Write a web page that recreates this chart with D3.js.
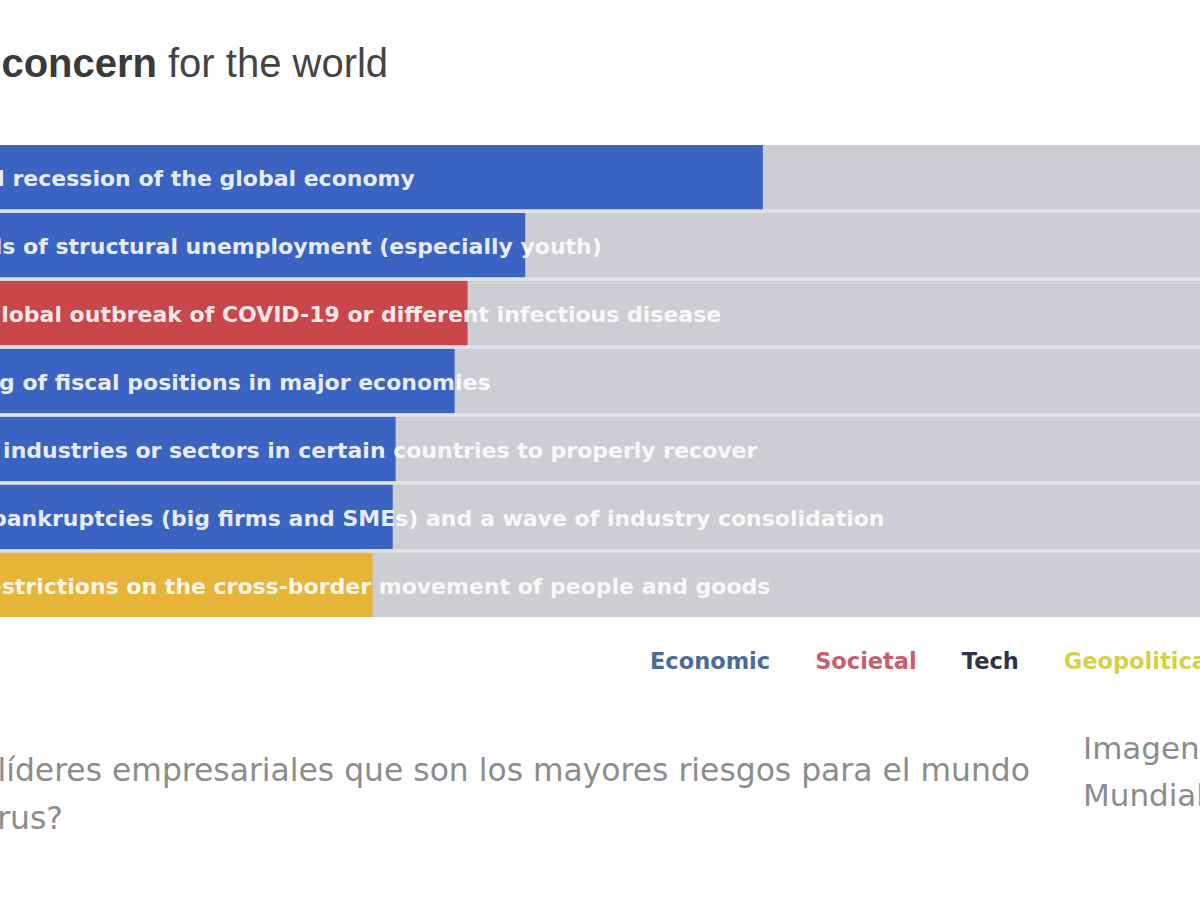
<!DOCTYPE html>
<html>
<head>
<meta charset="utf-8">
<script src="https://cdn.jsdelivr.net/npm/d3@7"></script>
<style>
  html, body { margin: 0; padding: 0; background: #ffffff; }
  svg { display: block; }
</style>
</head>
<body>
<svg id="chart" width="1200" height="900"></svg>
<script>
// ---- data ----
const categories = [
  "Prolonged recession of the global economy",
  "High levels of structural unemployment (especially youth)",
  "Another global outbreak of COVID-19 or different infectious disease",
  "Weakening of fiscal positions in major economies",
  "Failure of industries or sectors in certain countries to properly recover",
  "Surge of bankruptcies (big firms and SMEs) and a wave of industry consolidation",
  "Tighter restrictions on the cross-border movement of people and goods"
];
const values = [62.0, 45.5, 41.5, 40.6, 36.5, 36.3, 34.9];
const riskTypes = ["Economic", "Economic", "Societal", "Economic", "Economic", "Economic", "Geopolitical"];
const legendLabels = ["Economic", "Societal", "Tech", "Geopolitical"];
const barColors = ["#3a63c2", "#c9464b", "#2f3446", "#e7b43a"];
const legendColors = ["#4b6b9b", "#c95f69", "#2e3447", "#d8d048"];
const titleBold = "Risks of most concern";
const titleRest = "for the world";
const captionLines = [
  "¿Qué consideran los líderes empresariales que son los mayores riesgos para el mundo",
  "tras el coronavirus?"
];
const creditLines = ["Imagen: Foro Económico", "Mundial"];

// ---- scales ----
const svg = d3.select("#chart");
const x = d3.scaleLinear().domain([0, 100]).range([-130, 1310]);
const y = d3.scaleBand().domain(categories).range([145, 617]).paddingInner(0.055);
const color = d3.scaleOrdinal().domain(legendLabels).range(barColors);
const legendColor = d3.scaleOrdinal().domain(legendLabels).range(legendColors);

// title
svg.append("text")
  .attr("x", 157).attr("y", 77)
  .attr("text-anchor", "end")
  .style("font-family", "'Liberation Sans', Arial, sans-serif")
  .style("font-size", "40px").style("font-weight", "bold")
  .style("fill", "#3a3a3a")
  .text(titleBold);
svg.append("text")
  .attr("x", 168).attr("y", 77)
  .style("font-family", "'Liberation Sans', Arial, sans-serif")
  .style("font-size", "40px")
  .style("fill", "#444")
  .text(titleRest);

// background between rows
svg.append("rect")
  .attr("x", x(0)).attr("y", y.range()[0])
  .attr("width", x(100) - x(0)).attr("height", y.range()[1] - y.range()[0])
  .attr("fill", "#e1e2e5");

const rows = svg.append("g").selectAll("g").data(categories).join("g");

// tracks
rows.append("rect")
  .attr("x", x(0)).attr("y", d => y(d))
  .attr("width", x(100) - x(0)).attr("height", y.bandwidth())
  .attr("fill", "#cdced3");

// bars
rows.append("rect")
  .attr("x", x(0)).attr("y", d => y(d))
  .attr("width", (d, i) => x(values[i]) - x(0)).attr("height", y.bandwidth())
  .attr("fill", (d, i) => color(riskTypes[i]));

// labels
rows.append("text")
  .attr("x", x(0) + 8)
  .attr("y", d => y(d) + y.bandwidth() / 2)
  .attr("dy", "0.4em")
  .style("font-family", "'DejaVu Sans', sans-serif")
  .style("font-size", "22px").style("font-weight", "bold")
  .style("fill", "#ffffff")
  .style("fill-opacity", 0.9)
  .text(d => d);

// legend
const legend = svg.append("g");
let lx = 650;
legendLabels.forEach(l => {
  const t = legend.append("text")
    .attr("x", lx).attr("y", 669)
    .style("font-family", "'DejaVu Sans', sans-serif")
    .style("font-size", "22.5px").style("font-weight", "bold")
    .style("fill", legendColor(l))
    .text(l);
  lx += t.node().getComputedTextLength() + 45;
});

// caption
const capStyle = sel => sel
  .style("font-family", "'DejaVu Sans', sans-serif")
  .style("font-size", "31.4px")
  .style("fill", "#8c8c8c");
svg.append("text")
  .attr("x", 1030).attr("y", 781)
  .attr("text-anchor", "end")
  .call(capStyle)
  .text(captionLines[0]);
svg.append("text")
  .attr("x", 63).attr("y", 829)
  .attr("text-anchor", "end")
  .call(capStyle)
  .text(captionLines[1]);

// credit
creditLines.forEach((c, i) => {
  svg.append("text")
    .attr("x", 1083).attr("y", 759 + i * 47)
    .call(capStyle)
    .style("font-size", "31px")
    .text(c);
});
</script>
</body>
</html>
